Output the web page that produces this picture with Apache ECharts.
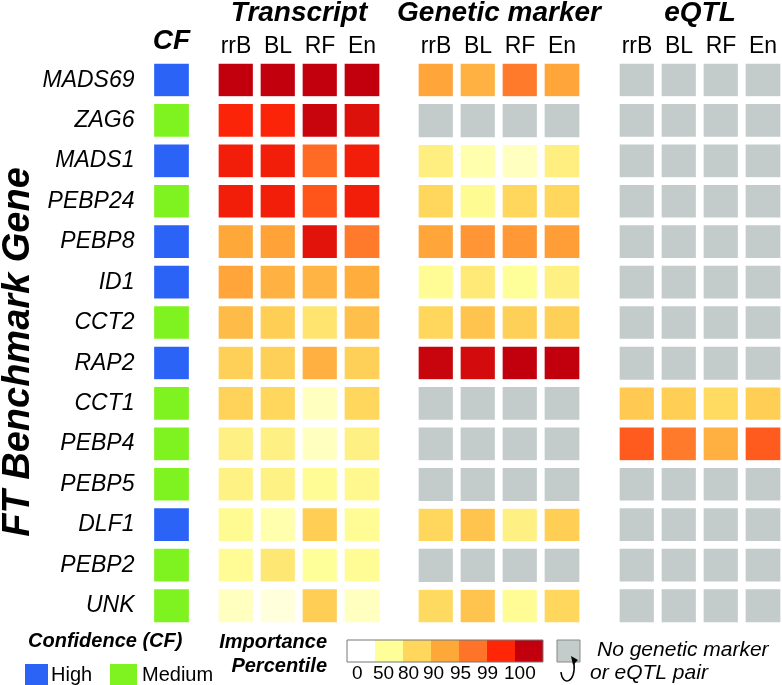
<!DOCTYPE html>
<html>
<head>
<meta charset="utf-8">
<script src="https://cdn.jsdelivr.net/npm/echarts@6/dist/echarts.min.js"></script>
<style>
html, body { margin: 0; padding: 0; background: #fff; }
#chart { width: 782px; height: 685px; }
</style>
</head>
<body>
<div id="chart"></div>
<script>
// genes, top to bottom
var genes = ['MADS69', 'ZAG6', 'MADS1', 'PEBP24', 'PEBP8', 'ID1', 'CCT2', 'RAP2', 'CCT1', 'PEBP4', 'PEBP5', 'DLF1', 'PEBP2', 'UNK'];
var methods = ['rrB', 'BL', 'RF', 'En'];
var confidence = ['High', 'Medium', 'High', 'Medium', 'High', 'High', 'Medium', 'High', 'Medium', 'Medium', 'Medium', 'High', 'Medium', 'Medium'];

// importance percentile per gene (rrB, BL, RF, En); null = no genetic marker / eQTL pair
var transcript = [
  [100, 100, 100, 100],
  [99.05, 99.05, 99.9, 99.56],
  [99.2, 99.2, 95.5, 99.2],
  [99.2, 99.2, 96.6, 99.2],
  [90, 90.5, 99.5, 94.4],
  [90.3, 88, 87.5, 89],
  [86, 82, 70, 85],
  [81.5, 81.5, 88.3, 81.5],
  [81, 80, 31, 80],
  [61, 61, 31, 61],
  [60, 60, 52, 55],
  [53, 40, 82, 52],
  [52, 68, 50, 52],
  [31, 17, 82, 31]
];
var geneticMarker = [
  [90.3, 88, 94.4, 90.3],
  [null, null, null, null],
  [62, 40, 31, 62],
  [80, 53, 80, 80],
  [90.3, 91.8, 91.5, 91],
  [52, 66, 50, 61],
  [80, 84, 81.5, 81.5],
  [99.9, 99.7, 100, 100],
  [null, null, null, null],
  [null, null, null, null],
  [null, null, null, null],
  [80, 84, 61, 82],
  [null, null, null, null],
  [78, 84, 52, 80]
];
var eqtl = [
  [null, null, null, null],
  [null, null, null, null],
  [null, null, null, null],
  [null, null, null, null],
  [null, null, null, null],
  [null, null, null, null],
  [null, null, null, null],
  [null, null, null, null],
  [83, 82, 77, 82],
  [96.3, 94.4, 88.3, 96.3],
  [null, null, null, null],
  [null, null, null, null],
  [null, null, null, null],
  [null, null, null, null]
];

var percentileTicks = [0, 50, 80, 90, 95, 99, 100];
var tickColors = ['#ffffff', '#ffff99', '#ffd75c', '#ffa83a', '#ff7428', '#ff2608', '#c2000d'];
var cfColors = ['#2b63f6', '#7ff31f'];
var noDataColor = '#c3cbcb';

var FONT = 'Liberation Sans';

// position of a percentile on the (uneven) legend scale: 0..6
function toStep(v) {
  for (var i = 0; i < percentileTicks.length - 1; i++) {
    if (v <= percentileTicks[i + 1]) {
      return i + (v - percentileTicks[i]) / (percentileTicks[i + 1] - percentileTicks[i]);
    }
  }
  return percentileTicks.length - 1;
}

// split a table into scored cells and "no data" cells
function cells(table, missing) {
  var out = [];
  table.forEach(function (row, y) {
    row.forEach(function (v, x) {
      if (v == null) {
        if (missing) out.push([x, y, -1]);
      } else if (!missing) {
        out.push([x, y, toStep(v), v]);
      }
    });
  });
  return out;
}

var cfData = confidence.map(function (c, y) { return [0, y, c === 'High' ? 0 : 1]; });

var gridTop = 60, gridH = 566;
var blocks = [
  { left: 150.5, width: 42, cats: ['CF'], name: '' },
  { left: 215, width: 168, cats: methods, name: 'Transcript' },
  { left: 415, width: 168, cats: methods, name: 'Genetic marker' },
  { left: 616, width: 168, cats: methods, name: 'eQTL' }
];

var chart = echarts.init(document.getElementById('chart'));

var cellStyle = { borderColor: '#fff', borderWidth: 7.8 };

var series = [
  { type: 'heatmap', xAxisIndex: 0, yAxisIndex: 0, data: cfData }
];
[transcript, geneticMarker, eqtl].forEach(function (t, i) {
  series.push({ type: 'heatmap', xAxisIndex: i + 1, yAxisIndex: i + 1, data: cells(t, false) });
});
[transcript, geneticMarker, eqtl].forEach(function (t, i) {
  series.push({ type: 'heatmap', xAxisIndex: i + 1, yAxisIndex: i + 1, data: cells(t, true) });
});
series.forEach(function (s) {
  s.itemStyle = cellStyle;
  s.emphasis = { disabled: true };
});

var option = {
  animation: false,
  textStyle: { fontFamily: FONT },
  grid: blocks.map(function (b) {
    return { left: b.left, top: gridTop, width: b.width, height: gridH, outerBoundsMode: 'none', containLabel: false };
  }),
  xAxis: blocks.map(function (b, i) {
    return {
      type: 'category',
      gridIndex: i,
      data: b.cats,
      position: 'top',
      axisLine: { show: false },
      axisTick: { show: false },
      splitLine: { show: false },
      axisLabel: i === 0
        ? { fontSize: 28, fontWeight: 'bold', fontStyle: 'italic', color: '#000', margin: 5, fontFamily: FONT }
        : { fontSize: 23, color: '#000', margin: 2, fontFamily: FONT },
      name: b.name,
      nameLocation: 'middle',
      nameGap: 33,
      nameTextStyle: { fontSize: 28, fontWeight: 'bold', fontStyle: 'italic', color: '#000', fontFamily: FONT }
    };
  }),
  yAxis: blocks.map(function (b, i) {
    return {
      type: 'category',
      gridIndex: i,
      data: genes,
      inverse: true,
      show: i === 0,
      axisLine: { show: false },
      axisTick: { show: false },
      splitLine: { show: false },
      axisLabel: { fontSize: 23, fontStyle: 'italic', color: '#000', margin: 16, fontFamily: FONT },
      name: i === 0 ? 'FT Benchmark Gene' : '',
      nameLocation: 'middle',
      nameRotate: 90,
      nameGap: 113,
      nameTextStyle: { fontSize: 38, fontWeight: 'bold', fontStyle: 'italic', color: '#000', fontFamily: FONT, padding: [0, 18, 0, 0] }
    };
  }),
  visualMap: [
    {
      type: 'piecewise', show: false, seriesIndex: 0, dimension: 2,
      pieces: [{ value: 0, color: cfColors[0] }, { value: 1, color: cfColors[1] }]
    },
    {
      type: 'continuous', show: false, seriesIndex: [1, 2, 3], dimension: 2,
      min: 0, max: 6,
      inRange: { color: tickColors }
    },
    {
      type: 'piecewise', show: false, seriesIndex: [4, 5, 6], dimension: 2,
      pieces: [{ value: -1, color: noDataColor }]
    }
  ],
  series: series,
  graphic: buildLegend()
};

function buildLegend() {
  var g = [];
  var bold = { fontFamily: FONT, fontSize: 20, fontWeight: 'bold', fontStyle: 'italic', fill: '#000' };
  var plain = { fontFamily: FONT, fontSize: 20, fill: '#000' };

  g.push({ type: 'text', left: 28, top: 631, style: Object.assign({ text: 'Confidence (CF)' }, bold) });
  g.push({ type: 'rect', shape: { x: 25, y: 664, width: 23, height: 21 }, style: { fill: cfColors[0] } });
  g.push({ type: 'text', x: 51, y: 675, style: Object.assign({ text: 'High', verticalAlign: 'middle' }, plain) });
  g.push({ type: 'rect', shape: { x: 110, y: 664, width: 27, height: 21 }, style: { fill: cfColors[1] } });
  g.push({ type: 'text', x: 142, y: 675, style: Object.assign({ text: 'Medium', verticalAlign: 'middle' }, plain) });

  g.push({ type: 'text', x: 327, y: 642, style: Object.assign({ text: 'Importance', align: 'right', verticalAlign: 'middle' }, bold) });
  g.push({ type: 'text', x: 327, y: 666, style: Object.assign({ text: 'Percentile', align: 'right', verticalAlign: 'middle' }, bold) });

  var bx = 347, bw = 28;
  tickColors.forEach(function (c, i) {
    g.push({ type: 'rect', shape: { x: bx + bw * i, y: 640, width: bw, height: 22 }, style: { fill: c } });
  });
  g.push({ type: 'rect', shape: { x: bx, y: 640, width: bw * 7, height: 22 }, style: { fill: null, stroke: '#777', lineWidth: 1 } });
  var labelX = [352, 373, 398, 423, 450, 477, 504];
  percentileTicks.forEach(function (t, i) {
    g.push({ type: 'text', x: labelX[i], y: 674,
      style: { text: String(t), fontFamily: FONT, fontSize: 19, fill: '#000', verticalAlign: 'middle' } });
  });

  g.push({ type: 'rect', shape: { x: 557, y: 640, width: 23, height: 22 }, style: { fill: noDataColor, stroke: '#888', lineWidth: 1 } });
  g.push({ type: 'bezierCurve', shape: { x1: 574, y1: 663, cpx1: 576, cpy1: 684, cpx2: 562, cpy2: 686, x2: 561, y2: 672 },
    style: { stroke: '#000', lineWidth: 1.5, fill: null } });
  g.push({ type: 'polygon', shape: { points: [[571, 656], [578, 660], [573, 665]] }, style: { fill: '#000' } });

  var ital = { fontFamily: FONT, fontSize: 21, fontStyle: 'italic', fill: '#000', verticalAlign: 'middle' };
  g.push({ type: 'text', x: 597, y: 650, style: Object.assign({ text: 'No genetic marker' }, ital) });
  g.push({ type: 'text', x: 590, y: 673, style: Object.assign({ text: 'or eQTL pair' }, ital) });
  return g;
}

chart.setOption(option);
</script>
</body>
</html>
